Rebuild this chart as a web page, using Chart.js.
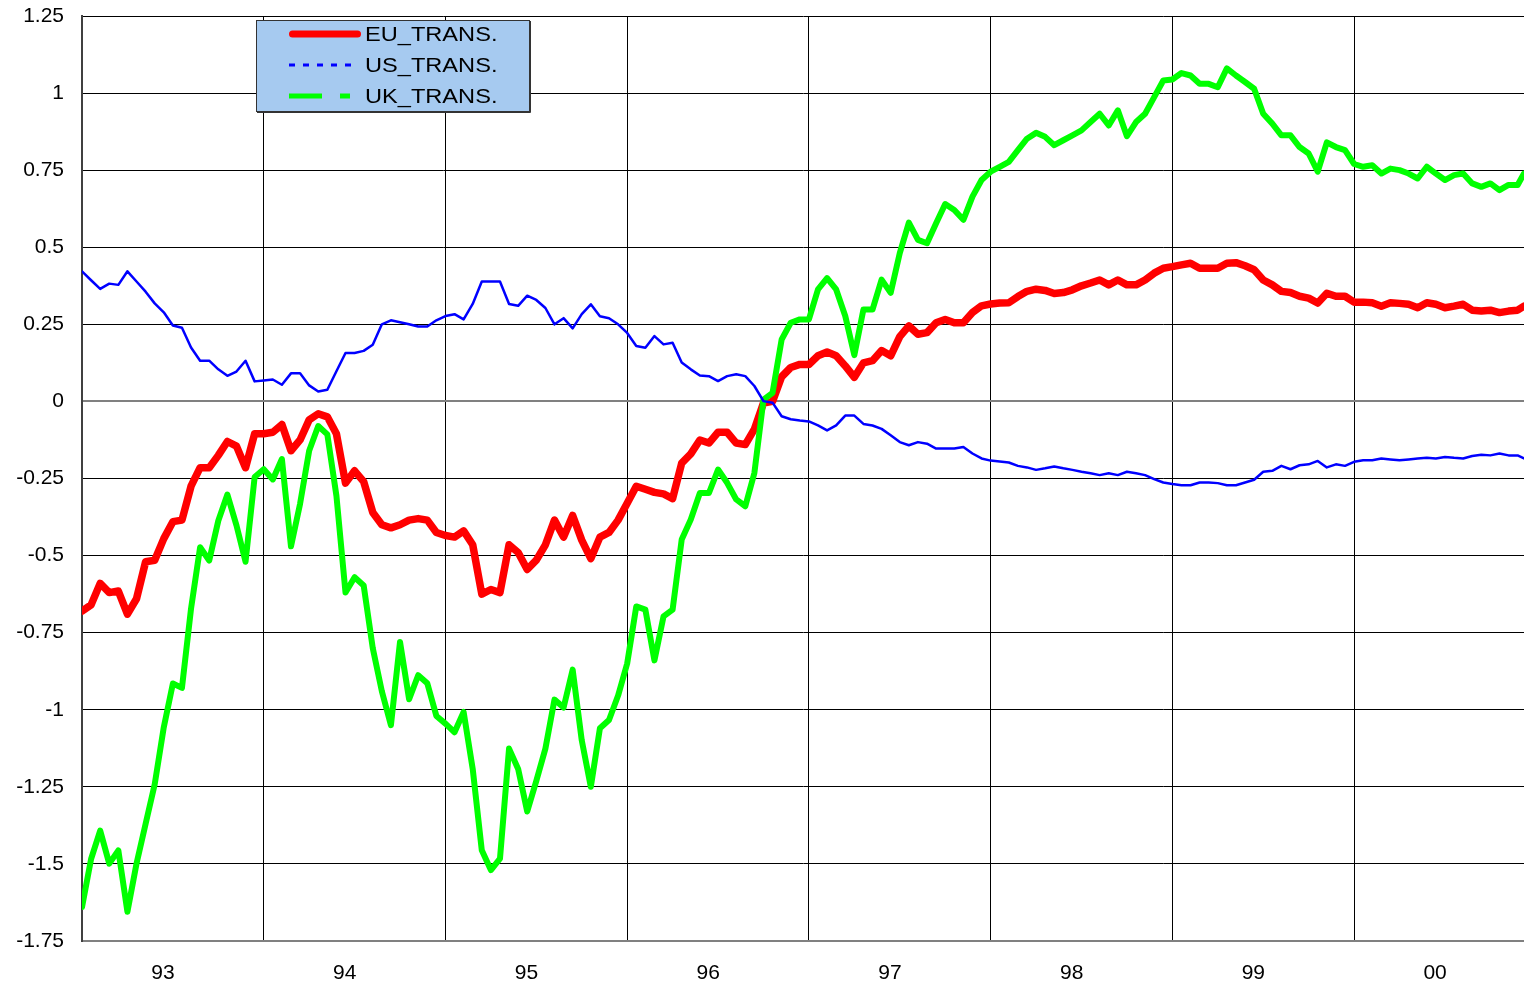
<!DOCTYPE html>
<html>
<head>
<meta charset="utf-8">
<title>EU / US / UK transitory components</title>
<script src="https://cdn.jsdelivr.net/npm/chart.js@4.4.1/dist/chart.umd.min.js"></script>
<style>
    html, body { margin: 0; padding: 0; background: #fff; }
    #wrap { width: 1524px; height: 989px; }
</style>
</head>
<body>
<div id="wrap"><canvas id="chart" width="1524" height="989"></canvas></div>
<script>
// --- Data, one sample every 0.05 year ---
const START_YEAR = 1993;
const STEP = 0.05;
const END_YEAR = 2000.935; // last sample sits on the right edge of the plot

const euTrans = [
    -0.68, -0.66, -0.59, -0.62, -0.615, -0.69, -0.64, -0.52, -0.515, -0.445,
    -0.39, -0.385, -0.275, -0.215, -0.215, -0.175, -0.13, -0.145, -0.215, -0.105,
    -0.105, -0.10, -0.075, -0.16, -0.125, -0.06, -0.04, -0.05, -0.105, -0.265,
    -0.225, -0.26, -0.36, -0.40, -0.41, -0.40, -0.385, -0.38, -0.385, -0.425,
    -0.435, -0.44, -0.42, -0.465, -0.625, -0.61, -0.62, -0.465, -0.49, -0.545,
    -0.515, -0.465, -0.385, -0.44, -0.37, -0.45, -0.51, -0.44, -0.425, -0.385,
    -0.33, -0.275, -0.285, -0.295, -0.30, -0.315, -0.20, -0.17, -0.125, -0.135,
    -0.10, -0.10, -0.135, -0.14, -0.09, -0.005, 0.00, 0.08, 0.11, 0.12,
    0.12, 0.148, 0.16, 0.148, 0.115, 0.078, 0.125, 0.132, 0.165, 0.148,
    0.21, 0.245, 0.218, 0.223, 0.255, 0.266, 0.255, 0.255, 0.288, 0.31,
    0.316, 0.319, 0.32, 0.34, 0.357, 0.364, 0.36, 0.35, 0.353, 0.362,
    0.375, 0.384, 0.394, 0.378, 0.394, 0.378, 0.378, 0.394, 0.416, 0.432,
    0.437, 0.443, 0.448, 0.432, 0.432, 0.432, 0.448, 0.45, 0.44, 0.427,
    0.394, 0.378, 0.357, 0.353, 0.341, 0.335, 0.319, 0.351, 0.341, 0.341,
    0.322, 0.322, 0.32, 0.309, 0.32, 0.318, 0.315, 0.304, 0.32, 0.315,
    0.304, 0.309, 0.315, 0.296, 0.293, 0.296, 0.288, 0.293, 0.296, 0.309
];

const usTrans = [
    0.422, 0.393, 0.365, 0.382, 0.378, 0.422, 0.389, 0.356, 0.318, 0.289,
    0.246, 0.239, 0.175, 0.132, 0.132, 0.104, 0.083, 0.097, 0.132, 0.065,
    0.068, 0.071, 0.054, 0.091, 0.091, 0.052, 0.032, 0.038, 0.098, 0.157,
    0.157, 0.164, 0.184, 0.25, 0.263, 0.257, 0.25, 0.243, 0.243, 0.263,
    0.277, 0.283, 0.266, 0.316, 0.389, 0.389, 0.389, 0.316, 0.31, 0.343,
    0.329, 0.303, 0.25, 0.27, 0.237, 0.283, 0.315, 0.276, 0.27, 0.25,
    0.222, 0.18, 0.174, 0.212, 0.185, 0.19, 0.126, 0.104, 0.084, 0.082,
    0.066, 0.082, 0.088, 0.082, 0.05, 0.001, -0.004, -0.048, -0.058, -0.062,
    -0.065, -0.078, -0.094, -0.078, -0.046, -0.046, -0.073, -0.078, -0.089, -0.11,
    -0.132, -0.142, -0.132, -0.137, -0.153, -0.153, -0.153, -0.148, -0.169, -0.185,
    -0.192, -0.195, -0.198, -0.209, -0.214, -0.222, -0.217, -0.211, -0.217, -0.222,
    -0.228, -0.233, -0.239, -0.233, -0.239, -0.228, -0.233, -0.239, -0.252, -0.263,
    -0.268, -0.272, -0.272, -0.263, -0.263, -0.265, -0.272, -0.272, -0.263, -0.254,
    -0.228, -0.225, -0.209, -0.22, -0.207, -0.204, -0.193, -0.214, -0.204, -0.209,
    -0.196, -0.191, -0.191, -0.185, -0.188, -0.191, -0.188, -0.185, -0.183, -0.185,
    -0.18, -0.183, -0.185, -0.177, -0.173, -0.175, -0.169, -0.175, -0.175, -0.185
];

const ukTrans = [
    -1.64, -1.484, -1.392, -1.499, -1.456, -1.655, -1.499, -1.37, -1.242, -1.057,
    -0.915, -0.929, -0.672, -0.473, -0.516, -0.387, -0.302, -0.402, -0.52, -0.245,
    -0.22, -0.253, -0.187, -0.47, -0.332, -0.16, -0.08, -0.107, -0.306, -0.62,
    -0.57, -0.597, -0.80, -0.94, -1.05, -0.78, -0.966, -0.888, -0.914, -1.02,
    -1.045, -1.073, -1.007, -1.192, -1.456, -1.52, -1.483, -1.126, -1.192, -1.33,
    -1.231, -1.126, -0.967, -0.993, -0.87, -1.099, -1.25, -1.06, -1.033, -0.954,
    -0.85, -0.665, -0.675, -0.84, -0.697, -0.675, -0.448, -0.383, -0.297, -0.297,
    -0.221, -0.264, -0.318, -0.34, -0.232, 0.006, 0.028, 0.201, 0.255, 0.266,
    0.266, 0.363, 0.40, 0.363, 0.277, 0.15, 0.298, 0.298, 0.395, 0.352,
    0.481, 0.58, 0.524, 0.513, 0.578, 0.64, 0.621, 0.589, 0.664, 0.718,
    0.745, 0.761, 0.777, 0.815, 0.852, 0.871, 0.858, 0.831, 0.847, 0.863,
    0.879, 0.906, 0.933, 0.895, 0.944, 0.86, 0.906, 0.933, 0.987, 1.041,
    1.044, 1.065, 1.057, 1.03, 1.03, 1.019, 1.08, 1.057, 1.036, 1.014,
    0.933, 0.901, 0.863, 0.863, 0.825, 0.804, 0.745, 0.84, 0.825, 0.815,
    0.77, 0.761, 0.766, 0.739, 0.755, 0.75, 0.739, 0.723, 0.761, 0.739,
    0.718, 0.734, 0.739, 0.707, 0.696, 0.707, 0.685, 0.702, 0.702, 0.739
];

// Axis ticks
const yearTicks = [1993, 1994, 1995, 1996, 1997, 1998, 1999, 2000];
const yearLabels = ['93', '94', '95', '96', '97', '98', '99', '00'];
const valueTicks = [-1.75, -1.5, -1.25, -1, -0.75, -0.5, -0.25, 0, 0.25, 0.5, 0.75, 1, 1.25];

const dates = euTrans.map((_, i) => (i === euTrans.length - 1 ? END_YEAR : START_YEAR + i * STEP));
const toPoints = (arr) => arr.map((v, i) => ({ x: dates[i], y: v }));

const FONT = '"Liberation Sans", Arial, sans-serif';

// Excel-style legend box: pale blue panel with dashed line samples
const boxLegend = {
    id: 'boxLegend',
    afterDatasetsDraw(chart, args, opts) {
        const ctx = chart.ctx;
        ctx.save();
        ctx.fillStyle = opts.background;
        ctx.fillRect(opts.x, opts.y, opts.width, opts.height);
        ctx.strokeStyle = opts.borderColor;
        ctx.lineWidth = 1;
        ctx.strokeRect(opts.x + 0.5, opts.y + 0.5, opts.width, opts.height);
        // slightly heavier right / bottom edge
        ctx.beginPath();
        ctx.moveTo(opts.x + opts.width + 1.5, opts.y + 1);
        ctx.lineTo(opts.x + opts.width + 1.5, opts.y + opts.height + 1.5);
        ctx.lineTo(opts.x + 1, opts.y + opts.height + 1.5);
        ctx.stroke();

        chart.data.datasets.forEach((ds, i) => {
            const y = opts.y + opts.firstRow + i * opts.rowGap;
            ctx.beginPath();
            ctx.strokeStyle = ds.borderColor;
            ctx.lineWidth = ds.legendWidth;
            ctx.lineCap = ds.legendCap;
            ctx.setLineDash(ds.legendDash);
            ctx.moveTo(ds.legendFrom, y);
            ctx.lineTo(ds.legendTo, y);
            ctx.stroke();
            ctx.setLineDash([]);

            ctx.save();
            ctx.fillStyle = '#000';
            ctx.font = '20px ' + FONT;
            ctx.textBaseline = 'middle';
            ctx.translate(opts.textX, y + 1);
            ctx.scale(1.18, 1);
            ctx.fillText(ds.label, 0, 0);
            ctx.restore();
        });
        ctx.restore();
    }
};

new Chart(document.getElementById('chart'), {
    type: 'line',
    data: {
        datasets: [
            {
                label: 'EU_TRANS.',
                data: toPoints(euTrans),
                borderColor: '#ff0000',
                borderWidth: 7.5,
                order: 3,
                legendWidth: 7, legendCap: 'round', legendDash: [], legendFrom: 292.5, legendTo: 357.5
            },
            {
                label: 'US_TRANS.',
                data: toPoints(usTrans),
                borderColor: '#0000ff',
                borderWidth: 2.5,
                order: 1,
                legendWidth: 3, legendCap: 'butt', legendDash: [6, 8], legendFrom: 289, legendTo: 359
            },
            {
                label: 'UK_TRANS.',
                data: toPoints(ukTrans),
                borderColor: '#00ff00',
                borderWidth: 6,
                order: 2,
                legendWidth: 5, legendCap: 'butt', legendDash: [33, 18], legendFrom: 289, legendTo: 350
            }
        ]
    },
    options: {
        responsive: false,
        animation: false,
        layout: { padding: { top: 16, right: 0, bottom: 0, left: 0 } },
        elements: {
            point: { radius: 0, hoverRadius: 0 },
            line: { tension: 0, borderJoinStyle: 'round', borderCapStyle: 'round' }
        },
        plugins: {
            legend: { display: false },
            tooltip: { enabled: false },
            boxLegend: {
                x: 256, y: 20, width: 273, height: 91,
                background: '#a6caf0', borderColor: '#333333',
                firstRow: 14, rowGap: 31, textX: 365
            }
        },
        scales: {
            x: {
                type: 'linear',
                min: START_YEAR,
                max: END_YEAR,
                afterBuildTicks: (scale) => { scale.ticks = yearTicks.map(v => ({ value: v })); },
                afterFit: (scale) => { scale.height = 48; },
                grid: { color: '#000000', lineWidth: 1, drawTicks: false },
                border: { color: '#808080', width: 2 },
                ticks: {
                    autoSkip: false,
                    maxRotation: 0,
                    labelOffset: 81,
                    padding: 20,
                    color: '#000',
                    font: { family: FONT, size: 21 },
                    callback: (value, index) => yearLabels[index]
                }
            },
            y: {
                min: -1.75,
                max: 1.25,
                afterBuildTicks: (scale) => { scale.ticks = valueTicks.map(v => ({ value: v })); },
                afterFit: (scale) => { scale.width = 82; },
                // gap between labels and axis comes from an invisible tick mark,
                // so ticks.padding does not push the plot area down
                grid: {
                    color: (c) => (c.tick && c.tick.value === 0 ? '#808080' : '#000000'),
                    lineWidth: (c) => (c.tick && c.tick.value === 0 ? 2 : 1),
                    drawTicks: true,
                    tickLength: 18,
                    tickColor: 'rgba(0,0,0,0)'
                },
                border: { color: '#404040', width: 2 },
                ticks: {
                    padding: 0,
                    color: '#000',
                    font: { family: FONT, size: 21 },
                    callback: (value) => String(value)
                }
            }
        }
    },
    plugins: [boxLegend]
});
</script>
</body>
</html>
